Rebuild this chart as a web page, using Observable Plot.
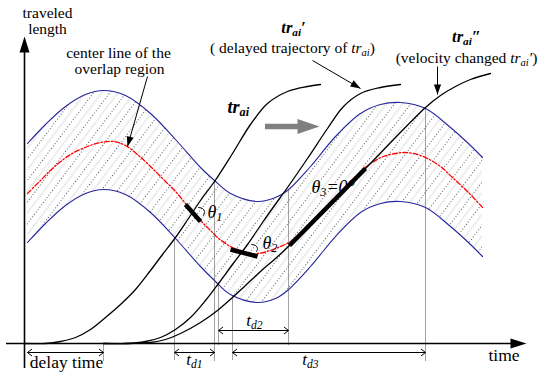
<!DOCTYPE html>
<html>
<head>
<meta charset="utf-8">
<script src="https://cdn.jsdelivr.net/npm/d3@7"></script>
<script src="https://cdn.jsdelivr.net/npm/@observablehq/plot@0.6"></script>
<style>
  body { margin: 0; background: #fff; }
  svg { display: block; }
  svg text { font-family: "Liberation Serif", "DejaVu Serif", serif; }
</style>
</head>
<body>
<div id="chart"></div>
<script>
// Time t and traveled length s share one unit; the origin sits at the axes' corner.

// Boundaries of the overlap region (upper and lower envelope)
const bandT     = [3, 21, 41, 61, 79, 101, 126, 151, 176, 190, 206, 233, 251, 263, 286, 311, 336, 356, 376, 401, 426, 446, 458];
const bandUpper = [200, 219, 237, 249, 253, 248, 230, 204, 176, 163, 150, 142, 146, 153, 177, 207, 230, 239, 241, 235, 216, 198, 186];
const bandLower = [101, 120, 138, 150, 154, 149, 131, 105, 77, 63, 49, 41, 45, 53, 77, 107, 131, 140, 142, 136, 117, 99, 87];

// Center line of the overlap region
const centerT = [3, 16, 29, 46, 63, 76, 89, 101, 113, 126, 139, 151, 161, 169, 178, 186, 193, 206, 216, 226, 234, 246, 256, 266, 276, 296, 316, 333, 346, 359, 371, 381, 393, 403, 416, 428, 443, 459];
const centerS = [150, 163, 176, 189, 197, 201, 202, 198, 189, 177, 164, 152, 140, 131, 121, 113, 106, 97, 93, 90, 90, 93, 97, 102, 111, 131, 152, 169, 180, 187, 190, 191, 189, 185, 177, 166, 152, 135];

// Trajectories: original, delayed, and delayed with changed velocity
const trT = [0, 21, 36, 51, 66, 81, 96, 111, 126, 138, 151, 164, 176, 190, 208, 226, 243, 263, 283, 296];
const trS = [0, 0, 2, 6, 14, 26, 39, 54, 73, 89, 106, 125, 143, 162, 190, 219, 240, 252, 257, 259];
const delayedT = [79, 101, 121, 136, 151, 166, 181, 194, 208, 223, 238, 250, 263, 283, 303, 319, 336, 356, 376];
const delayedS = [0, 0, 2, 6, 14, 26, 43, 60, 79, 99, 121, 138, 156, 185, 215, 237, 250, 256, 259];
const changedT = [79, 106, 126, 141, 156, 176, 193, 208, 221, 236, 251, 265, 296, 326, 341, 371, 401, 416, 431, 446, 466];
const changedS = [0, 0, 1, 4, 10, 21, 33, 46, 58, 72, 85, 98, 130, 160, 175, 206, 236, 248, 257, 264, 270];

// Bold tangent pieces along the center line (theta 1, 2, 3)
const tangentT1 = [161, 206, 265];
const tangentS1 = [139, 94, 98];
const tangentT2 = [176, 233, 341];
const tangentS2 = [122, 87, 175];

// Small angle arcs for theta 1 and theta 2
const arcT = [[174, 178, 180, 179], [227, 231, 233, 232]];
const arcS = [[136, 135, 132, 128], [99, 98, 95, 92]];

// Dotted guide lines at the crossing times
const guideT      = [79, 150, 190, 194, 208, 264, 401];
const guideTop    = [0, 105, 162, 60, 47, 154, 236];
const guideBottom = [-17, -17, -17, -2, -17, -2, -17];

// Time intervals: delay time, t_d1, t_d2, t_d3
const spanStart = [3, 150, 194, 208];
const spanEnd   = [79, 190, 264, 401];
const spanS     = [-9, -9, 13, -9];

// Leader arrows pointing at the center line and the two shifted trajectories
const leaderT1 = [123, 288, 413];
const leaderS1 = [267, 283, 277];
const leaderT2 = [103, 336, 413];
const leaderS2 = [197, 255, 249];

// Gray shift arrow
const shiftT = [241, 295];
const shiftS = 217;

// Axis extents
const xAxisT = [-18, 502];
const yAxisS = [-25, 307];

// Text labels (baseline positions); inline tags mark italic, bold and subscript runs
const labelsMiddle = [
  {t: 23, s: 326, size: 15.5, text: "traveled"},
  {t: 23, s: 310, size: 15.5, text: "length"},
  {t: 94, s: 286, size: 15.5, text: "center line of the"},
  {t: 95, s: 270, size: 15.5, text: "overlap region"},
  {t: 269, s: 311, size: 16.5, text: "<b><i>tr<sub>ai</sub>′</i></b>"},
  {t: 268, s: 291, size: 15.5, text: "( delayed trajectory of <i>tr<sub>ai</sub></i>)"},
  {t: 442, s: 302, size: 16.5, text: "<b><i>tr<sub>ai</sub>″</i></b>"},
  {t: 442, s: 281, size: 15.5, text: "(velocity changed <i>tr<sub>ai</sub>′</i>)"},
  {t: 170, s: -21, size: 17, text: "<i>t<sub>d1</sub></i>"},
  {t: 230, s: 18, size: 17, text: "<i>t<sub>d2</sub></i>"},
  {t: 286, s: -21, size: 17, text: "<i>t<sub>d3</sub></i>"},
  {t: 42, s: -24, size: 17.5, text: "delay time"}
];
const labelsStart = [
  {t: 203, s: 231, size: 18, text: "<b><i>tr<sub>ai</sub></i></b>"},
  {t: 183, s: 126, size: 18, text: "<i>θ<sub>1</sub></i>"},
  {t: 238, s: 95, size: 18, text: "<i>θ<sub>2</sub></i>"},
  {t: 287, s: 151, size: 18, text: "<i>θ<sub>3</sub>=0°</i>"},
  {t: 464, s: -17, size: 17.5, text: "time"}
];

// ---- tables built from the arrays above ----
const band = bandT.map((t, i) => ({t, upper: bandUpper[i], lower: bandLower[i]}));
const center = centerT.map((t, i) => ({t, s: centerS[i]}));
const trajectories = [
  ...trT.map((t, i) => ({id: "tr", t, s: trS[i]})),
  ...delayedT.map((t, i) => ({id: "delayed", t, s: delayedS[i]})),
  ...changedT.map((t, i) => ({id: "changed", t, s: changedS[i]}))
];
const tangents = tangentT1.map((t, i) => ({t1: t, s1: tangentS1[i], t2: tangentT2[i], s2: tangentS2[i]}));
const arcs = arcT.flatMap((ts, k) => ts.map((t, i) => ({id: k, t, s: arcS[k][i]})));
const guides = guideT.map((t, i) => ({t, top: guideTop[i], bottom: guideBottom[i]}));
const spans = spanStart.map((t, i) => ({t1: t, t2: spanEnd[i], s: spanS[i]}));
const spanEnds = spans.flatMap(d => [{t: d.t1, s: d.s, dir: -90}, {t: d.t2, s: d.s, dir: 90}]);
const deg = (dt, ds) => Math.atan2(dt, ds) * 180 / Math.PI;
const leaders = leaderT1.map((t, i) => ({t1: t, s1: leaderS1[i], t2: leaderT2[i], s2: leaderS2[i],
  dir: deg(leaderT2[i] - t, leaderS2[i] - leaderS1[i])}));

// Arrowhead shapes drawn with the tip at the anchor, pointing up before rotation
const filledHead = (len, hw) => ({draw(ctx) { ctx.moveTo(0, 0); ctx.lineTo(hw, len); ctx.lineTo(-hw, len); ctx.closePath(); }});
const openHead = (len, hw) => ({draw(ctx) { ctx.moveTo(-hw, len); ctx.lineTo(0, 0); ctx.lineTo(hw, len); }});

const serif = "Liberation Serif";

const chart = Plot.plot({
  width: 539,
  height: 372,
  margin: 0,
  axis: null,
  x: {domain: [-24, 515]},
  y: {domain: [-29, 343]},
  style: {fontFamily: "'Liberation Serif', serif", background: "white", color: "black"},
  marks: [
    // hatched overlap region
    Plot.areaY(band, {x: "t", y1: "lower", y2: "upper", fill: "url(#hatch)", curve: "catmull-rom"}),
    Plot.line(band, {x: "t", y: "upper", stroke: "#26269c", strokeWidth: 1.1, curve: "catmull-rom"}),
    Plot.line(band, {x: "t", y: "lower", stroke: "#26269c", strokeWidth: 1.1, curve: "catmull-rom"}),
    // center line
    Plot.line(center, {x: "t", y: "s", stroke: "#ff0000", strokeWidth: 1.3, strokeDasharray: "5,2,1.5,2", curve: "catmull-rom"}),
    // dotted guides
    Plot.link(guides, {x1: "t", x2: "t", y1: "top", y2: "bottom", stroke: "#444", strokeWidth: 1, strokeDasharray: "1,1"}),
    // trajectories
    Plot.line(trajectories, {x: "t", y: "s", z: "id", stroke: "black", strokeWidth: 1.3, curve: "catmull-rom"}),
    // bold tangent pieces and angle arcs
    Plot.link(tangents, {x1: "t1", y1: "s1", x2: "t2", y2: "s2", stroke: "black", strokeWidth: 4.5}),
    Plot.line(arcs, {x: "t", y: "s", z: "id", stroke: "black", strokeWidth: 1, curve: "catmull-rom"}),
    // axes
    Plot.ruleY([0], {x1: xAxisT[0], x2: xAxisT[1] - 14, stroke: "black", strokeWidth: 1.6}),
    Plot.ruleX([0], {y1: yAxisS[0], y2: yAxisS[1] - 14, stroke: "black", strokeWidth: 1.6}),
    Plot.dot([{t: xAxisT[1], s: 0, dir: 90}, {t: 0, s: yAxisS[1], dir: 0}],
      {x: "t", y: "s", rotate: "dir", r: 5, symbol: filledHead(16, 5), fill: "black", stroke: "none"}),
    // interval arrows
    Plot.link(spans, {x1: "t1", x2: "t2", y1: "s", y2: "s", stroke: "black", strokeWidth: 1}),
    Plot.dot(spanEnds, {x: "t", y: "s", rotate: "dir", r: 4, symbol: openHead(4.5, 3.5), fill: "none", stroke: "black", strokeWidth: 1}),
    // leader arrows
    Plot.link(leaders, {x1: "t1", y1: "s1", x2: "t2", y2: "s2", stroke: "black", strokeWidth: 1}),
    Plot.dot(leaders, {x: "t2", y: "s2", rotate: "dir", r: 4, symbol: filledHead(10, 3.6), fill: "black", stroke: "none"}),
    // gray shift arrow
    Plot.ruleY([shiftS], {x1: shiftT[0], x2: shiftT[1] - 18, stroke: "#808080", strokeWidth: 5.5}),
    Plot.dot([{t: shiftT[1], s: shiftS}], {x: "t", y: "s", rotate: 90, r: 6, symbol: filledHead(22, 7.5), fill: "#808080", stroke: "none"}),
    // labels
    Plot.text(labelsMiddle, {x: "t", y: "s", text: "text", fontSize: "size", fontFamily: serif, textAnchor: "middle", lineAnchor: "bottom", fill: "black"}),
    Plot.text(labelsStart, {x: "t", y: "s", text: "text", fontSize: "size", fontFamily: serif, textAnchor: "start", lineAnchor: "bottom", fill: "black"})
  ]
});

document.getElementById("chart").appendChild(chart);

// Hatch pattern for the overlap region: alternating dark and light dotted diagonals
const defs = d3.select(chart).insert("defs", ":first-child");
const pat = defs.append("pattern")
  .attr("id", "hatch")
  .attr("patternUnits", "userSpaceOnUse")
  .attr("width", 13)
  .attr("height", 6)
  .attr("patternTransform", "rotate(37)");
pat.append("line").attr("x1", 0.5).attr("x2", 0.5).attr("y1", 0).attr("y2", 6)
  .attr("stroke", "#333").attr("stroke-width", 0.8).attr("stroke-dasharray", "1 2");
pat.append("line").attr("x1", 7).attr("x2", 7).attr("y1", 0).attr("y2", 6)
  .attr("stroke", "#aaa").attr("stroke-width", 0.8).attr("stroke-dasharray", "1 1");

// Turn inline <i>, <b>, <sub> tags into styled tspans
const SVGNS = "http://www.w3.org/2000/svg";
chart.querySelectorAll("text").forEach(el => {
  el.setAttribute("font-family", serif);
  const src = el.textContent;
  if (!src.includes("<")) return;
  const base = parseFloat(getComputedStyle(el).fontSize) || 16;
  el.textContent = "";
  let italic = false, bold = false, sub = false, shift = 0;
  for (const tok of src.split(/(<\/?(?:i|b|sub)>)/)) {
    if (!tok) continue;
    const m = tok.match(/^<(\/?)(i|b|sub)>$/);
    if (m) {
      const on = !m[1];
      if (m[2] === "i") italic = on; else if (m[2] === "b") bold = on; else sub = on;
      continue;
    }
    const ts = document.createElementNS(SVGNS, "tspan");
    ts.textContent = tok;
    if (italic) ts.setAttribute("font-style", "italic");
    if (bold) ts.setAttribute("font-weight", "bold");
    if (sub) ts.setAttribute("font-size", (base * 0.68).toFixed(2));
    const want = sub ? base * 0.22 : 0;
    if (want !== shift) { ts.setAttribute("dy", (want - shift).toFixed(2)); shift = want; }
    el.appendChild(ts);
  }
});
</script>
</body>
</html>
